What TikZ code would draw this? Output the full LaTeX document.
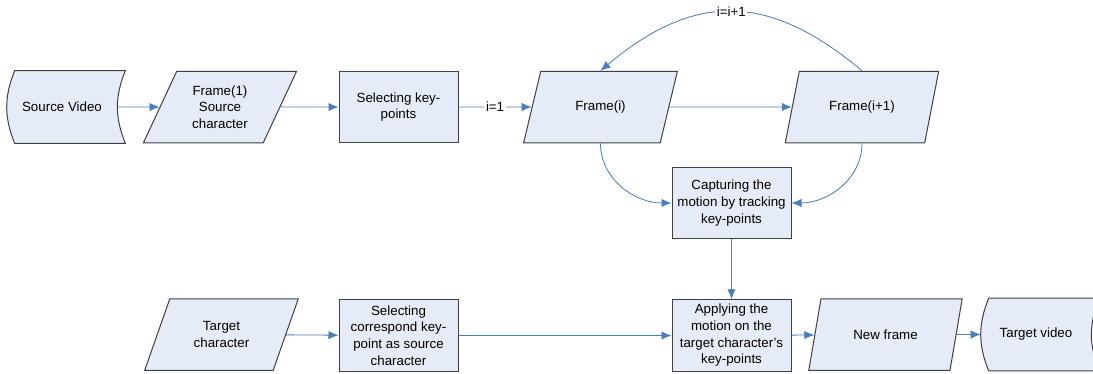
\documentclass[tikz,border=0pt]{standalone}
\usepackage{fontspec}
\setmainfont{Liberation Sans}
\usetikzlibrary{positioning, arrows.meta, shapes.geometric, backgrounds}

\definecolor{boxfill}{HTML}{E6ECF7}
\definecolor{boxline}{HTML}{404040}
\definecolor{flowblue}{HTML}{4A7EBB}

\tikzset{
    procbox/.style={draw=boxline, line width=.6pt, fill=boxfill, rectangle, align=center, minimum width=71.4pt, minimum height=42.9pt, inner sep=1pt},
    iobox/.style={draw=boxline, line width=.6pt, fill=boxfill, trapezium, trapezium left angle=64, trapezium right angle=116, trapezium stretches=true, align=center, minimum width=92.4pt, minimum height=42.9pt, inner sep=1pt},
    storebox/.style={rectangle, align=center, minimum width=66pt, minimum height=43.2pt, inner sep=1pt},
    storeline/.style={draw=boxline, line width=.6pt, fill=boxfill},
    flow/.style={-{Latex[length=6pt, width=5pt]}, draw=flowblue, line width=.5pt},
    lbl/.style={fill=white, inner sep=1pt}
}

\begin{document}
\begin{tikzpicture}[x=0.6pt, y=-0.6pt, font=\fontsize{8}{10}\selectfont]
    \useasboundingbox (0, 0) rectangle (1093, 373);
    \clip (0, 0) rectangle (1093, 373);

    % top row
    \node (src) [storebox] at (62, 107) {Source Video};
    \node (fr1) [iobox] at (220, 107) {Frame(1)\\Source\\character};
    \node (selkp) [procbox] at (398.5, 107) {Selecting key-\\points};
    \node (fri) [iobox] at (600.5, 107) {Frame(i)};
    \node (frip) [iobox] at (862, 107) {Frame(i+1)};
    \node (capt) [procbox] at (731.5, 203) {Capturing the\\motion by tracking\\key-points};

    % bottom row
    \node (appl) [procbox, below=36pt of capt] {Applying the\\motion on the\\target character's\\key-points};
    \node (tgtc) [iobox] at (221.5, 334.5) {Target\\character};
    \node (selcor) [procbox, below=93.6pt of selkp] {Selecting\\correspond key-\\point as source\\character};
    \node (newf) [iobox] at (885.5, 334.5) {New frame};
    \node (tgtv) [storebox] at (1036, 334.5) {Target video};

    \begin{scope}[on background layer]
        \draw [storeline] ([xshift=4.8pt]src.north west) to[bend right=22] ([xshift=4.8pt]src.south west)
            -- ([xshift=4.8pt]src.south east) to[bend left=22] ([xshift=4.8pt]src.north east) -- cycle;
        \draw [storeline] ([xshift=4.8pt]tgtv.north west) to[bend right=22] ([xshift=4.8pt]tgtv.south west)
            -- ([xshift=4.8pt]tgtv.south east) to[bend left=22] ([xshift=4.8pt]tgtv.north east) -- cycle;
    \end{scope}

    \draw [flow] (src.east) -- (fr1);
    \draw [flow] (fr1) -- (selkp);
    \draw [flow] (selkp) -- node[lbl] {i=1} (fri);
    \draw [flow] (fri) -- (frip);
    \draw [flow] (frip.center |- frip.north) to[out=140, in=40, looseness=1.2] node[lbl] {i=i+1} (fri.center |- fri.north);
    \draw [flow] (fri.center |- fri.south) to[out=-90, in=180] (capt.west);
    \draw [flow] (frip.center |- frip.south) to[out=-90, in=0] (capt.east);
    \draw [flow] (capt) -- (appl);
    \draw [flow] (tgtc) -- (selcor);
    \draw [flow] (selcor) -- (appl);
    \draw [flow] (appl) -- (newf);
    \draw [flow] (newf) -- (tgtv.west);
\end{tikzpicture}
\end{document}
